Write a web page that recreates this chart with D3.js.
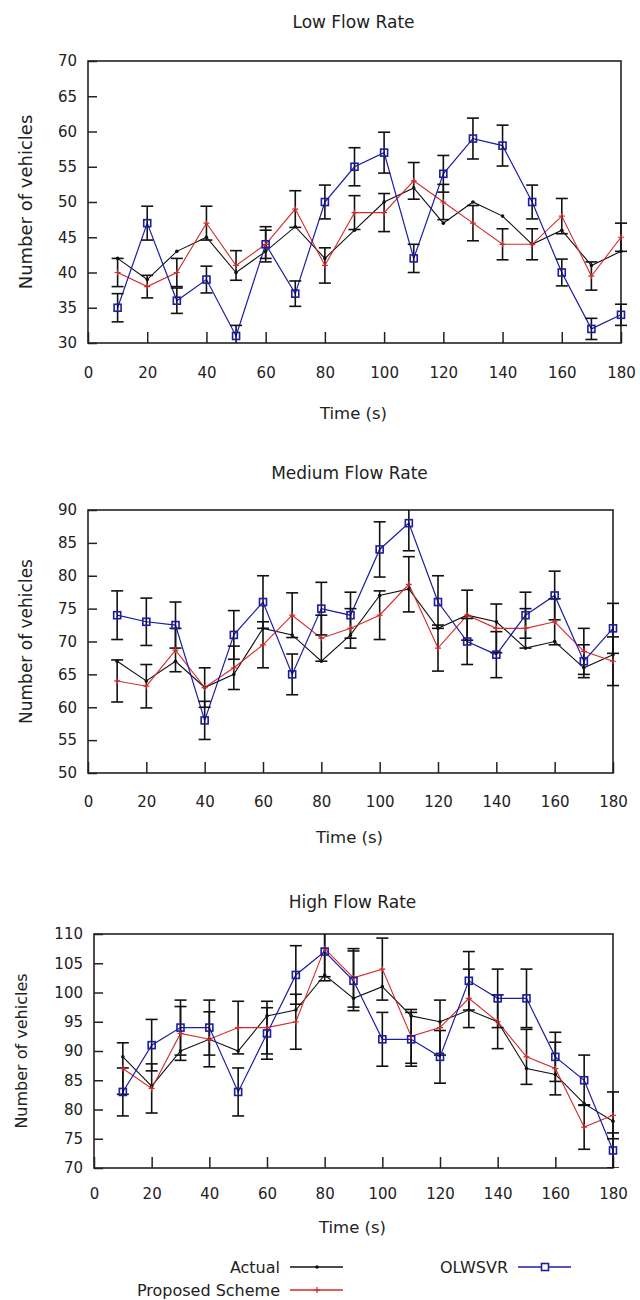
<!DOCTYPE html>
<html>
<head>
<meta charset="utf-8">
<script src="https://cdn.jsdelivr.net/npm/d3@7"></script>
<style>
  body { margin: 0; background: #fff; }
  svg text { font-family: "DejaVu Sans", sans-serif; fill: #222; }
</style>
</head>
<body>
<script>
// time steps (x) and axis ticks
var times = [10, 20, 30, 40, 50, 60, 70, 80, 90, 100, 110, 120, 130, 140, 150, 160, 170, 180];
var xTicks = [0, 20, 40, 60, 80, 100, 120, 140, 160, 180];

// low flow rate
var lowYTicks = [30, 35, 40, 45, 50, 55, 60, 65, 70];
var lowActual = [42, 39, 43, 45, 40, 43, 46.5, 42, 46, 50, 52, 47, 50, 48, 44, 46, 41, 43];
var lowProposed = [40, 38, 40, 47, 41, 44, 49, 41, 48.5, 48.5, 53, 50, 47, 44, 44, 48, 39.5, 45];
var lowProposedErr = [2, 1.6, 2, 2.4, 2.1, 2.5, 2.6, 2.5, 2.4, 2.7, 2.6, 2.5, 2.5, 2.2, 2.2, 2.5, 2, 2];
var lowOlwsvr = [35, 47, 36, 39, 31, 44, 37, 50, 55, 57, 42, 54, 59, 58, 50, 40, 32, 34];
var lowOlwsvrErr = [2, 2.4, 1.8, 1.9, 1.5, 2, 1.8, 2.4, 2.7, 2.9, 2, 2.6, 2.9, 2.9, 2.4, 1.9, 1.5, 1.5];

// medium flow rate
var medYTicks = [50, 55, 60, 65, 70, 75, 80, 85, 90];
var medActual = [67, 64, 67, 63, 65, 72, 71, 67, 71, 77, 78, 72, 74, 73, 69, 70, 66, 68];
var medProposed = [64, 63.2, 68.7, 63, 66, 69.5, 74, 70.5, 72, 74, 78.7, 69, 74, 72, 72, 73, 68.5, 67];
var medProposedErr = [3.2, 3.3, 3.3, 3, 3.3, 3.5, 3.4, 3.5, 3, 3.7, 4.2, 3.5, 3.8, 3.7, 3, 3.5, 3.5, 3.7];
var medOlwsvr = [74, 73, 72.5, 58, 71, 76, 65, 75, 74, 84, 88, 76, 70, 68, 74, 77, 67, 72];
var medOlwsvrErr = [3.7, 3.6, 3.5, 2.9, 3.7, 4, 3.1, 4, 3.5, 4.2, 4.2, 4, 3.5, 3.5, 3.5, 3.7, 2.5, 3.8];

// high flow rate
var highYTicks = [70, 75, 80, 85, 90, 95, 100, 105, 110];
var highActual = [89, 84, 90, 92, 90, 96, 97, 103, 99, 101, 96, 95, 97, 95, 87, 86, 81, 78];
var highProposed = [87, 83.6, 93, 92, 94, 94, 95, 107.5, 102.5, 104, 92.5, 94, 99, 95, 89, 87, 77, 79];
var highProposedErr = [4.4, 4.2, 4.6, 4.7, 4.5, 4.5, 4.7, 4.8, 5, 5.3, 4.6, 4.7, 5, 4.6, 4.7, 4.5, 3.8, 4];
var highOlwsvr = [83, 91, 94, 94, 83, 93, 103, 107, 102, 92, 92, 89, 102, 99, 99, 89, 85, 73];
var highOlwsvrErr = [4.1, 4.4, 4.7, 4.7, 4.1, 4.4, 5, 5, 5.1, 4.6, 4.6, 4.5, 5, 5, 5, 4.2, 4.3, 3];

var seriesNames = ['Actual', 'Proposed Scheme', 'OLWSVR'];
var colors = { actual: '#111', proposed: '#d42a2a', olwsvr: '#1c1ca6' };

var svg = d3.select('body').append('svg')
    .attr('width', 640)
    .attr('height', 1300);

// plaatsing van de drie grafieken
var panels = [
    { title: 'Low Flow Rate', yTicks: lowYTicks, actual: lowActual, proposed: lowProposed, proposedErr: lowProposedErr,
      olwsvr: lowOlwsvr, olwsvrErr: lowOlwsvrErr,
      left: 88, right: 621, top: 61, bottom: 343, titleY: 22, tickY: 29, labelY: 413, yLabelX: 26, yLabelSize: 18 },
    { title: 'Medium Flow Rate', yTicks: medYTicks, actual: medActual, proposed: medProposed, proposedErr: medProposedErr,
      olwsvr: medOlwsvr, olwsvrErr: medOlwsvrErr,
      left: 88, right: 613, top: 510, bottom: 773, titleY: 473, tickY: 28, labelY: 837, yLabelX: 26, yLabelSize: 17 },
    { title: 'High Flow Rate', yTicks: highYTicks, actual: highActual, proposed: highProposed, proposedErr: highProposedErr,
      olwsvr: highOlwsvr, olwsvrErr: highOlwsvrErr,
      left: 94, right: 613, top: 934, bottom: 1168, titleY: 902, tickY: 25, labelY: 1227, yLabelX: 21, yLabelSize: 16 }
];

var drawPanel = function (p, i) {
    var xScale = d3.scaleLinear().domain([0, 180]).range([p.left, p.right]);
    var yScale = d3.scaleLinear().domain(d3.extent(p.yTicks)).range([p.bottom, p.top]);

    var g = svg.append('g');
    var clipId = 'clip' + i;
    g.append('clipPath').attr('id', clipId)
        .append('rect')
        .attr('x', p.left - 8).attr('y', p.top)
        .attr('width', p.right - p.left + 16).attr('height', p.bottom - p.top);

    // assen met ticks naar binnen
    var xAxis = g.append('g')
        .attr('transform', 'translate(0,' + p.bottom + ')')
        .call(d3.axisBottom(xScale).tickValues(xTicks).tickSizeInner(-11).tickSizeOuter(0).tickPadding(p.tickY - 5));
    var yAxis = g.append('g')
        .attr('transform', 'translate(' + p.left + ',0)')
        .call(d3.axisLeft(yScale).tickValues(p.yTicks).tickSizeInner(-9).tickSizeOuter(0).tickPadding(11));
    [xAxis, yAxis].forEach(function (a) {
        a.select('.domain').remove();
        a.attr('font-family', null).attr('font-size', null);
        a.selectAll('line').attr('stroke', '#222').attr('stroke-width', 1.5);
        a.selectAll('text').style('font-size', '15px').attr('fill', '#222');
    });

    g.append('rect')
        .attr('x', p.left).attr('y', p.top)
        .attr('width', p.right - p.left).attr('height', p.bottom - p.top)
        .attr('fill', 'none').attr('stroke', '#222').attr('stroke-width', 1.6);

    g.append('text')
        .attr('x', (p.left + p.right) / 2 - 1).attr('y', p.titleY).attr('dy', '0.35em')
        .attr('text-anchor', 'middle').style('font-size', '17px')
        .text(p.title);
    g.append('text')
        .attr('x', (p.left + p.right) / 2 - 1).attr('y', p.labelY).attr('dy', '0.35em')
        .attr('text-anchor', 'middle').style('font-size', '16.5px')
        .text('Time (s)');
    g.append('text')
        .attr('transform', 'translate(' + p.yLabelX + ',' + ((p.top + p.bottom) / 2) + ') rotate(-90)')
        .attr('dy', '0.35em')
        .attr('text-anchor', 'middle').style('font-size', p.yLabelSize + 'px')
        .text('Number of vehicles');

    var plot = g.append('g').attr('clip-path', 'url(#' + clipId + ')');
    var line = d3.line()
        .x(function (d, j) { return xScale(times[j]); })
        .y(function (d) { return yScale(d); });

    plot.append('path').attr('d', line(p.actual))
        .attr('fill', 'none').attr('stroke', colors.actual).attr('stroke-width', 1.1);
    plot.append('path').attr('d', line(p.proposed))
        .attr('fill', 'none').attr('stroke', colors.proposed).attr('stroke-width', 1.1);
    plot.append('path').attr('d', line(p.olwsvr))
        .attr('fill', 'none').attr('stroke', colors.olwsvr).attr('stroke-width', 1.2);

    // foutbalken (zwart) voor Proposed Scheme en OLWSVR
    var bars = [];
    times.forEach(function (t, j) {
        bars.push({ t: t, v: p.proposed[j], e: p.proposedErr[j] });
        bars.push({ t: t, v: p.olwsvr[j], e: p.olwsvrErr[j] });
    });
    var eb = plot.selectAll('g.eb').data(bars).enter().append('g').attr('class', 'eb')
        .attr('stroke', '#111').attr('stroke-width', 1.6);
    eb.append('line')
        .attr('x1', function (d) { return xScale(d.t); }).attr('x2', function (d) { return xScale(d.t); })
        .attr('y1', function (d) { return yScale(d.v + d.e); }).attr('y2', function (d) { return yScale(d.v - d.e); });
    eb.append('line')
        .attr('x1', function (d) { return xScale(d.t) - 6; }).attr('x2', function (d) { return xScale(d.t) + 6; })
        .attr('y1', function (d) { return yScale(d.v + d.e); }).attr('y2', function (d) { return yScale(d.v + d.e); });
    eb.append('line')
        .attr('x1', function (d) { return xScale(d.t) - 6; }).attr('x2', function (d) { return xScale(d.t) + 6; })
        .attr('y1', function (d) { return yScale(d.v - d.e); }).attr('y2', function (d) { return yScale(d.v - d.e); });

    // markers
    plot.selectAll('circle.act').data(p.actual).enter().append('circle').attr('class', 'act')
        .attr('cx', function (d, j) { return xScale(times[j]); })
        .attr('cy', function (d) { return yScale(d); })
        .attr('r', 1.8).attr('fill', colors.actual);
    plot.selectAll('path.prop').data(p.proposed).enter().append('path').attr('class', 'prop')
        .attr('d', function (d, j) {
            var x = xScale(times[j]), y = yScale(d);
            return 'M' + (x - 3) + ',' + y + 'H' + (x + 3) + 'M' + x + ',' + (y - 3) + 'V' + (y + 3);
        })
        .attr('stroke', colors.proposed).attr('stroke-width', 1.2);
    plot.selectAll('rect.olw').data(p.olwsvr).enter().append('rect').attr('class', 'olw')
        .attr('x', function (d, j) { return xScale(times[j]) - 3.5; })
        .attr('y', function (d) { return yScale(d) - 3.5; })
        .attr('width', 7).attr('height', 7)
        .attr('fill', 'none').attr('stroke', colors.olwsvr).attr('stroke-width', 1.6);
};

panels.forEach(drawPanel);

// legenda onderaan
var legend = svg.append('g');
var legendItems = [
    { name: seriesNames[0], key: 'actual', textX: 280, lineX: 290, y: 1267 },
    { name: seriesNames[1], key: 'proposed', textX: 280, lineX: 290, y: 1290 },
    { name: seriesNames[2], key: 'olwsvr', textX: 508, lineX: 518, y: 1267 }
];
legendItems.forEach(function (d) {
    legend.append('text')
        .attr('x', d.textX).attr('y', d.y).attr('dy', '0.35em')
        .attr('text-anchor', 'end').style('font-size', '16px')
        .text(d.name);
    legend.append('line')
        .attr('x1', d.lineX).attr('x2', d.lineX + 53)
        .attr('y1', d.y).attr('y2', d.y)
        .attr('stroke', colors[d.key]).attr('stroke-width', 1.3);
    var mx = d.lineX + 27;
    if (d.key === 'actual') {
        legend.append('circle').attr('cx', mx).attr('cy', d.y).attr('r', 1.8).attr('fill', colors.actual);
    } else if (d.key === 'proposed') {
        legend.append('path')
            .attr('d', 'M' + (mx - 3) + ',' + d.y + 'H' + (mx + 3) + 'M' + mx + ',' + (d.y - 3) + 'V' + (d.y + 3))
            .attr('stroke', colors.proposed).attr('stroke-width', 1.2);
    } else {
        legend.append('rect').attr('x', mx - 3.5).attr('y', d.y - 3.5).attr('width', 7).attr('height', 7)
            .attr('fill', '#fff').attr('stroke', colors.olwsvr).attr('stroke-width', 1.6);
    }
});
</script>
</body>
</html>
